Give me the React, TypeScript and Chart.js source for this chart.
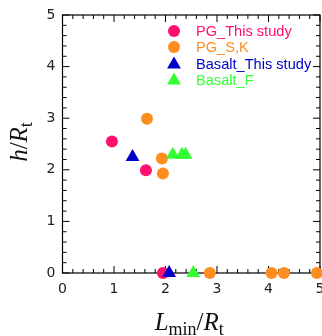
import React, { useEffect, useRef } from "react";
import { Chart, registerables } from "chart.js";

Chart.register(...registerables);

const seriesNames = ["PG_This study", "PG_S,K", "Basalt_This study", "Basalt_F"];
const seriesColors = ["#ff1070", "#ff8c1e", "#0000c8", "#33ff33"];
const seriesShapes = ["circle", "circle", "triangle", "triangle"];

const pgThisX = [0.96, 1.62, 1.95];
const pgThisY = [2.55, 1.99, 0];
const pgSKX = [1.64, 1.93, 1.95, 2.86, 4.06, 4.3, 4.94];
const pgSKY = [2.99, 2.22, 1.93, 0, 0, 0, 0];
const basaltThisX = [1.36, 2.07];
const basaltThisY = [2.25, 0];
const basaltFX = [2.14, 2.32, 2.39, 2.54];
const basaltFY = [2.29, 2.29, 2.29, 0];

const xTicks = [0, 1, 2, 3, 4, 5];
const yTicks = [0, 1, 2, 3, 4, 5];

const toPts = (xs: number[], ys: number[]) => xs.map((x, i) => ({ x, y: ys[i] }));

const SERIF = "'Liberation Serif', 'Times New Roman', serif";

function drawRich(
  ctx: CanvasRenderingContext2D,
  parts: { t: string; f: string; dy: number }[],
  x: number,
  y: number
) {
  let total = 0;
  for (const p of parts) {
    ctx.font = p.f;
    total += ctx.measureText(p.t).width;
  }
  let cx = x - total / 2;
  ctx.textBaseline = "alphabetic";
  ctx.textAlign = "left";
  for (const p of parts) {
    ctx.font = p.f;
    ctx.fillText(p.t, cx, y + p.dy);
    cx += ctx.measureText(p.t).width;
  }
}

const decor = {
  id: "decor",
  beforeDatasetsDraw(chart: any) {
    const { ctx, chartArea } = chart;
    const xs = chart.scales.x;
    const ys = chart.scales.y;
    const { left, right, top, bottom } = chartArea;
    ctx.save();
    ctx.strokeStyle = "#000";
    ctx.lineWidth = 1.2;
    ctx.strokeRect(left, top, right - left, bottom - top);
    ctx.lineWidth = 1;
    ctx.beginPath();
    for (let i = 0; i <= 25; i++) {
      const v = i * 0.2;
      const major = i % 5 === 0;
      const len = major ? 7 : 4;
      const px = xs.getPixelForValue(v);
      ctx.moveTo(px, bottom);
      ctx.lineTo(px, bottom - len);
      ctx.moveTo(px, top);
      ctx.lineTo(px, top + len);
      const py = ys.getPixelForValue(v);
      ctx.moveTo(left, py);
      ctx.lineTo(left + len, py);
      ctx.moveTo(right, py);
      ctx.lineTo(right - len, py);
    }
    ctx.stroke();
    ctx.restore();
  },
  afterDraw(chart: any) {
    const { ctx, chartArea } = chart;
    ctx.save();
    // legend
    const lx = 174;
    const tx = 196;
    const rows = [31, 47, 63.5, 79.5];
    chart.data.datasets.forEach((ds: any, i: number) => {
      const y = rows[i];
      ctx.fillStyle = ds.backgroundColor;
      ctx.beginPath();
      if (ds.pointStyle === "circle") {
        ctx.arc(lx, y, 6, 0, Math.PI * 2);
      } else {
        const r = 8;
        const yc = y + 1;
        ctx.moveTo(lx, yc - r);
        ctx.lineTo(lx + r * Math.sin((2 * Math.PI) / 3), yc + r * 0.5);
        ctx.lineTo(lx - r * Math.sin((2 * Math.PI) / 3), yc + r * 0.5);
        ctx.closePath();
      }
      ctx.fill();
      ctx.font = "14.6px 'Liberation Sans', Arial, sans-serif";
      ctx.textAlign = "left";
      ctx.textBaseline = "middle";
      ctx.fillText(ds.label, tx, y + 1);
    });
    // axis titles
    ctx.fillStyle = "#111";
    const main = `25px ${SERIF}`;
    const mainI = `italic 25px ${SERIF}`;
    const sub = `18px ${SERIF}`;
    const cx = (chartArea.left + chartArea.right) / 2 - 2;
    drawRich(
      ctx,
      [
        { t: "L", f: mainI, dy: 0 },
        { t: "min", f: sub, dy: 5 },
        { t: "/", f: main, dy: 0 },
        { t: "R", f: mainI, dy: 0 },
        { t: "t", f: sub, dy: 5 },
      ],
      cx,
      330
    );
    ctx.save();
    ctx.translate(27, (chartArea.top + chartArea.bottom) / 2 - 2);
    ctx.rotate(-Math.PI / 2);
    drawRich(
      ctx,
      [
        { t: "h", f: mainI, dy: 0 },
        { t: "/", f: main, dy: 0 },
        { t: "R", f: mainI, dy: 0 },
        { t: "t", f: sub, dy: 5 },
      ],
      0,
      0
    );
    ctx.restore();
    ctx.restore();
  },
};

export default function App() {
  const ref = useRef<HTMLCanvasElement | null>(null);
  useEffect(() => {
    document.body.style.margin = "0";
    const canvas = ref.current!;
    const xsArr = [pgThisX, pgSKX, basaltThisX, basaltFX];
    const ysArr = [pgThisY, pgSKY, basaltThisY, basaltFY];
    const orders = [4, 3, 2, 1];
    const chart = new Chart(canvas, {
      type: "scatter",
      data: {
        datasets: seriesNames.map((name, i) => ({
          label: name,
          data: toPts(xsArr[i], ysArr[i]),
          backgroundColor: seriesColors[i],
          borderColor: seriesColors[i],
          borderWidth: 0,
          pointStyle: seriesShapes[i] as any,
          pointRadius: seriesShapes[i] === "circle" ? 6 : 8,
          pointHoverRadius: seriesShapes[i] === "circle" ? 6 : 8,
          clip: false as any,
          order: orders[i],
        })),
      },
      options: {
        animation: false,
        responsive: false,
        maintainAspectRatio: false,
        layout: { autoPadding: false, padding: { left: 0, right: 2, top: 15, bottom: 0 } },
        plugins: { legend: { display: false }, tooltip: { enabled: false } },
        scales: {
          x: {
            type: "linear",
            min: 0,
            max: 5,
            afterBuildTicks: (s: any) => {
              s.ticks = xTicks.map((v) => ({ value: v }));
            },
            afterFit: (s: any) => {
              s.height = 63;
              s.paddingLeft = 0;
              s.paddingRight = 0;
            },
            grid: { display: false, drawTicks: false },
            border: { display: false },
            ticks: {
              padding: 8,
              color: "#222",
              font: { family: "'DejaVu Sans', sans-serif", size: 14 },
              maxRotation: 0,
              autoSkip: false,
            },
          },
          y: {
            type: "linear",
            min: 0,
            max: 5,
            afterBuildTicks: (s: any) => {
              s.ticks = yTicks.map((v) => ({ value: v }));
            },
            afterFit: (s: any) => {
              s.width = 62.5;
              s.paddingTop = 0;
              s.paddingBottom = 0;
            },
            grid: { display: false, drawTicks: false },
            border: { display: false },
            ticks: {
              padding: 7,
              color: "#222",
              font: { family: "'DejaVu Sans', sans-serif", size: 14 },
              autoSkip: false,
            },
          },
        },
      },
      plugins: [decor],
    });
    return () => chart.destroy();
  }, []);
  return (
    <div style={{ width: 322, height: 336 }}>
      <canvas ref={ref} width={322} height={336} style={{ display: "block" }} />
    </div>
  );
}
